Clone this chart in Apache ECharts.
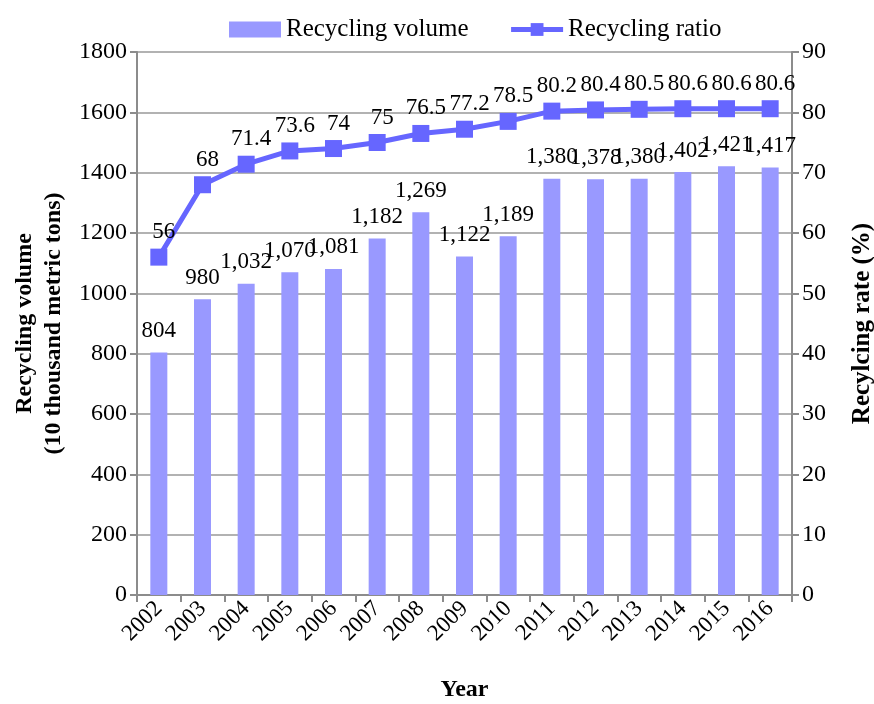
<!DOCTYPE html>
<html>
<head>
<meta charset="utf-8">
<script src="https://cdn.jsdelivr.net/npm/echarts@6/dist/echarts.min.js"></script>
<style>html,body{margin:0;padding:0;background:#fff;}#c{width:874px;height:704px;}</style>
</head>
<body>
<div id="c"></div>
<script>
const years = ['2002','2003','2004','2005','2006','2007','2008','2009','2010','2011','2012','2013','2014','2015','2016'];
const volume = [804, 980, 1032, 1070, 1081, 1182, 1269, 1122, 1189, 1380, 1378, 1380, 1402, 1421, 1417];
const ratio = [56, 68, 71.4, 73.6, 74, 75, 76.5, 77.2, 78.5, 80.2, 80.4, 80.5, 80.6, 80.6, 80.6];
const leftTicks = [0, 1800, 200];
const rightTicks = [0, 90, 10];

const FONT = '"Liberation Serif", "Times New Roman", serif';
const chart = echarts.init(document.getElementById('c'));
const axisLineStyle = {show: true, lineStyle: {color: '#8c8c8c', width: 2}};
const tickStyle = {show: true, length: 7, lineStyle: {color: '#8c8c8c', width: 2}};
chart.setOption({
  animation: false,
  textStyle: {fontFamily: FONT, color: '#000'},
  legend: {
    top: 12, left: 224,
    itemWidth: 52, itemHeight: 16, itemGap: 40,
    textStyle: {fontFamily: FONT, fontSize: 25, color: '#000'},
    lineStyle: {width: 5},
    data: [{name: 'Recycling volume', icon: 'rect'}, {name: 'Recycling ratio'}]
  },
  grid: {left: 137, right: 82, top: 52, bottom: 109, containLabel: false, outerBoundsMode: 'none'},
  xAxis: {
    type: 'category', data: years,
    name: 'Year', nameLocation: 'middle', nameGap: 83, nameMoveOverlap: false,
    nameTextStyle: {fontFamily: FONT, fontSize: 24, fontWeight: 'bold', color: '#000'},
    axisLine: axisLineStyle,
    axisTick: Object.assign({alignWithLabel: false}, tickStyle),
    axisLabel: {rotate: 45, fontFamily: FONT, fontSize: 23, color: '#000', margin: 10, interval: 0}
  },
  yAxis: [{
    type: 'value', min: leftTicks[0], max: leftTicks[1], interval: leftTicks[2],
    name: 'Recycling volume\n(10 thousand metric tons)', nameLocation: 'middle', nameGap: 69, nameRotate: 90,
    nameMoveOverlap: false,
    nameTextStyle: {fontFamily: FONT, fontSize: 24, fontWeight: 'bold', color: '#000', lineHeight: 29},
    axisLine: axisLineStyle,
    axisTick: tickStyle,
    axisLabel: {fontFamily: FONT, fontSize: 24, color: '#000', margin: 10, formatter: v => String(v)},
    splitLine: {show: true, lineStyle: {color: '#999', width: 1.5}}
  }, {
    type: 'value', min: rightTicks[0], max: rightTicks[1], interval: rightTicks[2], position: 'right',
    name: 'Recylcing rate (%)', nameLocation: 'middle', nameGap: 58, nameRotate: 90,
    nameMoveOverlap: false,
    nameTextStyle: {fontFamily: FONT, fontSize: 25, fontWeight: 'bold', color: '#000'},
    axisLine: axisLineStyle,
    axisTick: tickStyle,
    axisLabel: {fontFamily: FONT, fontSize: 24, color: '#000', margin: 10, formatter: v => String(v)},
    splitLine: {show: false}
  }],
  series: [{
    name: 'Recycling volume', type: 'bar', yAxisIndex: 0, data: volume,
    barWidth: 17,
    itemStyle: {color: '#9999ff'},
    label: {show: true, position: 'top', distance: 10, fontFamily: FONT, fontSize: 23, color: '#000',
      formatter: p => p.value.toLocaleString('en-US')}
  }, {
    name: 'Recycling ratio', type: 'line', yAxisIndex: 1, data: ratio,
    symbol: 'rect', symbolSize: 17,
    lineStyle: {color: '#6666ff', width: 5},
    itemStyle: {color: '#6666ff'},
    label: {show: true, position: 'top', distance: 5, offset: [5, 0], fontFamily: FONT, fontSize: 23, color: '#000'}
  }]
});
</script>
</body>
</html>
